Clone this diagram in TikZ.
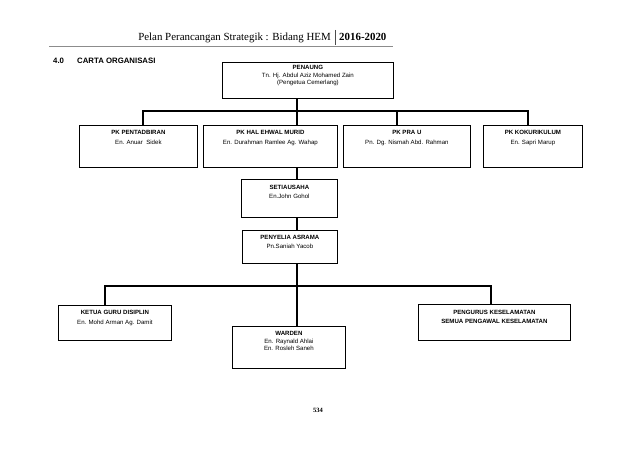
\documentclass[tikz,border=0pt]{standalone}
\usepackage{fontspec}
\setmainfont{Liberation Serif}
\setsansfont{Liberation Sans}
\begin{document}
\begin{tikzpicture}[x=1pt,y=-1pt,
  box/.style={draw, line width=0.8pt, inner sep=0pt, anchor=north west},
  txt/.style={font=\sffamily\fontsize{6.1}{#1}\selectfont, align=center, anchor=north, inner sep=0pt},
  txt/.default=10,
  conn/.style={line width=1.2pt},
  hdr/.style={font=\fontsize{10.9}{12}\selectfont, inner sep=0pt}]
\useasboundingbox (0,0) rectangle (638,452);
\fill[white] (0,0) rectangle (638,452);
% header
\node[hdr, anchor=base east] (htitle) at (331,41) {Pelan Perancangan Strategik : Bidang HEM};
\node[hdr, anchor=base west, font=\bfseries\fontsize{10.9}{12}\selectfont] (hyear) at (339,41) {2016-2020};
\draw[line width=0.6pt, black!70] (335,30) -- (335,45);
\draw[line width=1pt, black!45] (49,46.5) -- (393,46.5);
\node[anchor=base west, inner sep=0pt, font=\sffamily\bfseries\fontsize{7.8}{9}\selectfont] (sec) at (53,64) {4.0};
\node[anchor=base west, inner sep=0pt, font=\sffamily\bfseries\fontsize{7.8}{9}\selectfont] (sect) at (77,64) {CARTA ORGANISASI};
% boxes
\node[box, minimum width=171pt, minimum height=36pt] (penaung) at (222,62) {};
\node[box, minimum width=118pt, minimum height=42pt] (pentad) at (79,125) {};
\node[box, minimum width=134pt, minimum height=42pt] (hal) at (203,125) {};
\node[box, minimum width=127pt, minimum height=42pt] (prau) at (343,125) {};
\node[box, minimum width=99pt, minimum height=42pt] (koku) at (483,125) {};
\node[box, minimum width=96pt, minimum height=38pt] (setia) at (241,179) {};
\node[box, minimum width=95pt, minimum height=33pt] (penyelia) at (242,230) {};
\node[box, minimum width=113pt, minimum height=35pt] (ketua) at (58,305) {};
\node[box, minimum width=113pt, minimum height=42pt] (warden) at (232,326) {};
\node[box, minimum width=152pt, minimum height=36pt] (pengurus) at (418,304) {};
% texts
\node[txt=7.2, yshift=-3.5pt] (penaungT) at (penaung.north) {\textbf{PENAUNG}\\Tn. Hj. Abdul Aziz Mohamed Zain\\(Pengetua Cemerlang)};
\node[txt=10, yshift=-5.5pt] (pentadT) at (pentad.north) {\textbf{PK PENTADBIRAN}\\En. Anuar\ \ Sidek};
\node[txt=10, yshift=-5.5pt] (halT) at (hal.north) {\textbf{PK HAL EHWAL MURID}\\En. Durahman Ramlee Ag. Wahap};
\node[txt=10, yshift=-5.5pt] (prauT) at (prau.north) {\textbf{PK PRA U}\\Pn. Dg. Nismah Abd. Rahman};
\node[txt=10, yshift=-5.5pt] (kokuT) at (koku.north) {\textbf{PK KOKURIKULUM}\\En. Sapri Marup};
\node[txt=9, yshift=-6.5pt] (setiaT) at (setia.north) {\textbf{SETIAUSAHA}\\En.John Gohol};
\node[txt=9, yshift=-5.5pt] (penyeliaT) at (penyelia.north) {\textbf{PENYELIA ASRAMA}\\Pn.Saniah Yacob};
\node[txt=10, yshift=-5.5pt] (ketuaT) at (ketua.north) {\textbf{KETUA GURU DISIPLIN}\\En. Mohd Arman Ag. Damit};
\node[txt=7.5, yshift=-5.5pt] (wardenT) at (warden.north) {\textbf{WARDEN}\\En. Raynald Ahlai\\En. Rosleh Saneh};
\node[txt=9, yshift=-6.5pt] (pengurusT) at (pengurus.north) {\textbf{PENGURUS KESELAMATAN}\\\textbf{SEMUA PENGAWAL KESELAMATAN}};
% connectors
\coordinate (tx) at (297,0);
\coordinate (a1) at (143,111);
\coordinate (a3) at (397,111);
\coordinate (a4) at (528,111);
\coordinate (b1) at (105,286);
\coordinate (b3) at (491,286);
\draw[conn] (penaung.south -| tx) -- (hal.north -| tx);
\draw[conn] (pentad.north -| a1) -- (a1) -- (a4) -- (koku.north -| a4);
\draw[conn] (a3) -- (prau.north -| a3);
\draw[conn] (hal.south -| tx) -- (setia.north -| tx);
\draw[conn] (setia.south -| tx) -- (penyelia.north -| tx);
\draw[conn] (penyelia.south -| tx) -- (warden.north -| tx);
\draw[conn] (ketua.north -| b1) -- (b1) -- (b3) -- (pengurus.north -| b3);
% page number
\node[inner sep=0pt, font=\bfseries\fontsize{6.5}{8}\selectfont] (pg) at (318,410) {534};
\end{tikzpicture}
\end{document}
